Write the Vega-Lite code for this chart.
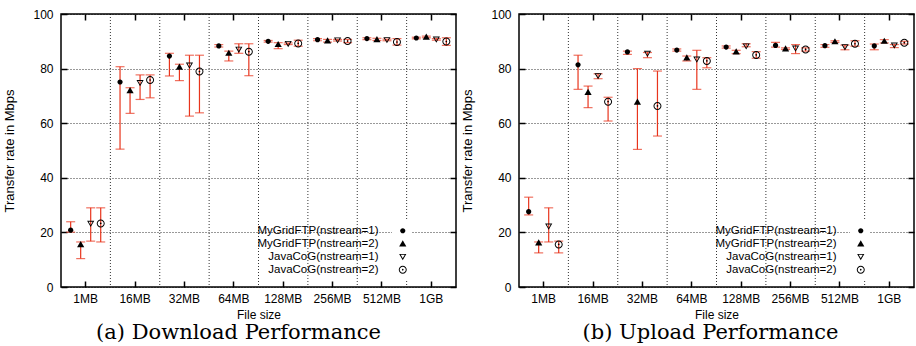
{
  "$schema": "https://vega.github.io/schema/vega-lite/v6.json",
  "padding": {"left": 3, "top": 7, "right": 1, "bottom": 2},
  "background": "white",
  "datasets": {
    "sizes": [{"s": "16MB"}, {"s": "32MB"}, {"s": "64MB"}, {"s": "128MB"}, {"s": "256MB"}, {"s": "512MB"}, {"s": "1GB"}],
    "dl": [
      {"s": "1MB", "k": "MyGridFTP(nstream=1)", "v": 20.8, "lo": 20.1, "hi": 23.9},
      {"s": "1MB", "k": "MyGridFTP(nstream=2)", "v": 15.6, "lo": 10.4, "hi": 16.5},
      {"s": "1MB", "k": "JavaCoG(nstream=1)", "v": 23.2, "lo": 16.8, "hi": 29.0},
      {"s": "1MB", "k": "JavaCoG(nstream=2)", "v": 23.3, "lo": 16.5, "hi": 29.0},
      {"s": "16MB", "k": "MyGridFTP(nstream=1)", "v": 75.1, "lo": 50.5, "hi": 80.7},
      {"s": "16MB", "k": "MyGridFTP(nstream=2)", "v": 72.0, "lo": 63.6, "hi": 73.0},
      {"s": "16MB", "k": "JavaCoG(nstream=1)", "v": 74.8, "lo": 68.7, "hi": 77.7},
      {"s": "16MB", "k": "JavaCoG(nstream=2)", "v": 75.8, "lo": 69.3, "hi": 77.7},
      {"s": "32MB", "k": "MyGridFTP(nstream=1)", "v": 84.6, "lo": 77.3, "hi": 85.6},
      {"s": "32MB", "k": "MyGridFTP(nstream=2)", "v": 80.6, "lo": 75.6, "hi": 81.6},
      {"s": "32MB", "k": "JavaCoG(nstream=1)", "v": 81.2, "lo": 62.6, "hi": 84.9},
      {"s": "32MB", "k": "JavaCoG(nstream=2)", "v": 78.9, "lo": 63.8, "hi": 84.9},
      {"s": "64MB", "k": "MyGridFTP(nstream=1)", "v": 88.3, "lo": 87.9, "hi": 88.8},
      {"s": "64MB", "k": "MyGridFTP(nstream=2)", "v": 85.7, "lo": 82.8, "hi": 86.4},
      {"s": "64MB", "k": "JavaCoG(nstream=1)", "v": 87.0, "lo": 85.6, "hi": 89.1},
      {"s": "64MB", "k": "JavaCoG(nstream=2)", "v": 86.2, "lo": 77.4, "hi": 89.1},
      {"s": "128MB", "k": "MyGridFTP(nstream=1)", "v": 90.0, "lo": 89.7, "hi": 90.3},
      {"s": "128MB", "k": "MyGridFTP(nstream=2)", "v": 88.9, "lo": 87.3, "hi": 89.5},
      {"s": "128MB", "k": "JavaCoG(nstream=1)", "v": 89.1, "lo": 88.8, "hi": 89.4},
      {"s": "128MB", "k": "JavaCoG(nstream=2)", "v": 89.2, "lo": 88.2, "hi": 90.4},
      {"s": "256MB", "k": "MyGridFTP(nstream=1)", "v": 90.6, "lo": 90.2, "hi": 91.0},
      {"s": "256MB", "k": "MyGridFTP(nstream=2)", "v": 90.2, "lo": 89.7, "hi": 90.7},
      {"s": "256MB", "k": "JavaCoG(nstream=1)", "v": 90.4, "lo": 90.1, "hi": 90.7},
      {"s": "256MB", "k": "JavaCoG(nstream=2)", "v": 90.1, "lo": 89.5, "hi": 90.7},
      {"s": "512MB", "k": "MyGridFTP(nstream=1)", "v": 91.0, "lo": 90.6, "hi": 91.3},
      {"s": "512MB", "k": "MyGridFTP(nstream=2)", "v": 90.7, "lo": 90.3, "hi": 91.1},
      {"s": "512MB", "k": "JavaCoG(nstream=1)", "v": 90.5, "lo": 90.2, "hi": 90.8},
      {"s": "512MB", "k": "JavaCoG(nstream=2)", "v": 89.7, "lo": 88.6, "hi": 91.0},
      {"s": "1GB", "k": "MyGridFTP(nstream=1)", "v": 91.2, "lo": 90.9, "hi": 91.5},
      {"s": "1GB", "k": "MyGridFTP(nstream=2)", "v": 91.6, "lo": 91.3, "hi": 91.9},
      {"s": "1GB", "k": "JavaCoG(nstream=1)", "v": 90.7, "lo": 90.4, "hi": 91.0},
      {"s": "1GB", "k": "JavaCoG(nstream=2)", "v": 89.9, "lo": 88.5, "hi": 91.3}
    ],
    "ul": [
      {"s": "1MB", "k": "MyGridFTP(nstream=1)", "v": 27.6, "lo": 26.4, "hi": 32.9},
      {"s": "1MB", "k": "MyGridFTP(nstream=2)", "v": 16.2, "lo": 12.5, "hi": 16.5},
      {"s": "1MB", "k": "JavaCoG(nstream=1)", "v": 22.2, "lo": 16.5, "hi": 29.0},
      {"s": "1MB", "k": "JavaCoG(nstream=2)", "v": 15.6, "lo": 12.5, "hi": 16.8},
      {"s": "16MB", "k": "MyGridFTP(nstream=1)", "v": 81.4, "lo": 72.4, "hi": 84.9},
      {"s": "16MB", "k": "MyGridFTP(nstream=2)", "v": 71.4, "lo": 65.7, "hi": 73.6},
      {"s": "16MB", "k": "JavaCoG(nstream=1)", "v": 77.3, "lo": 76.3, "hi": 78.1},
      {"s": "16MB", "k": "JavaCoG(nstream=2)", "v": 67.9, "lo": 60.8, "hi": 69.5},
      {"s": "32MB", "k": "MyGridFTP(nstream=1)", "v": 86.1, "lo": 85.2, "hi": 86.4},
      {"s": "32MB", "k": "MyGridFTP(nstream=2)", "v": 67.8, "lo": 50.4, "hi": 80.0},
      {"s": "32MB", "k": "JavaCoG(nstream=1)", "v": 85.5, "lo": 84.0, "hi": 85.9},
      {"s": "32MB", "k": "JavaCoG(nstream=2)", "v": 66.3, "lo": 55.3, "hi": 79.1},
      {"s": "64MB", "k": "MyGridFTP(nstream=1)", "v": 86.8, "lo": 86.4, "hi": 87.2},
      {"s": "64MB", "k": "MyGridFTP(nstream=2)", "v": 84.0, "lo": 82.8, "hi": 84.6},
      {"s": "64MB", "k": "JavaCoG(nstream=1)", "v": 83.4, "lo": 72.4, "hi": 86.7},
      {"s": "64MB", "k": "JavaCoG(nstream=2)", "v": 82.8, "lo": 80.3, "hi": 84.0},
      {"s": "128MB", "k": "MyGridFTP(nstream=1)", "v": 87.9, "lo": 87.5, "hi": 88.3},
      {"s": "128MB", "k": "MyGridFTP(nstream=2)", "v": 86.2, "lo": 85.5, "hi": 86.7},
      {"s": "128MB", "k": "JavaCoG(nstream=1)", "v": 88.2, "lo": 88.0, "hi": 89.1},
      {"s": "128MB", "k": "JavaCoG(nstream=2)", "v": 85.0, "lo": 83.8, "hi": 86.2},
      {"s": "256MB", "k": "MyGridFTP(nstream=1)", "v": 88.5, "lo": 87.9, "hi": 89.6},
      {"s": "256MB", "k": "MyGridFTP(nstream=2)", "v": 87.3, "lo": 87.0, "hi": 87.6},
      {"s": "256MB", "k": "JavaCoG(nstream=1)", "v": 87.4, "lo": 85.5, "hi": 88.8},
      {"s": "256MB", "k": "JavaCoG(nstream=2)", "v": 87.0, "lo": 86.4, "hi": 87.6},
      {"s": "512MB", "k": "MyGridFTP(nstream=1)", "v": 88.4, "lo": 87.8, "hi": 88.8},
      {"s": "512MB", "k": "MyGridFTP(nstream=2)", "v": 89.9, "lo": 89.6, "hi": 90.2},
      {"s": "512MB", "k": "JavaCoG(nstream=1)", "v": 87.9, "lo": 86.9, "hi": 88.6},
      {"s": "512MB", "k": "JavaCoG(nstream=2)", "v": 89.1, "lo": 88.2, "hi": 90.2},
      {"s": "1GB", "k": "MyGridFTP(nstream=1)", "v": 88.3, "lo": 86.9, "hi": 89.0},
      {"s": "1GB", "k": "MyGridFTP(nstream=2)", "v": 90.1, "lo": 89.4, "hi": 90.6},
      {"s": "1GB", "k": "JavaCoG(nstream=1)", "v": 88.5, "lo": 87.7, "hi": 88.8},
      {"s": "1GB", "k": "JavaCoG(nstream=2)", "v": 89.5, "lo": 89.0, "hi": 90.0}
    ]
  },
  "config": {
    "font": "Liberation Sans",
    "view": {"stroke": "black", "strokeWidth": 1.5},
    "axis": {
      "labelFont": "Liberation Sans", "labelFontSize": 12, "labelColor": "black",
      "titleFont": "Liberation Sans", "titleFontSize": 12, "titleFontWeight": "normal", "titleColor": "black",
      "domain": false, "tickColor": "black", "tickSize": -6, "tickWidth": 1.5,
      "gridColor": "#000", "gridDash": [1, 2], "gridOpacity": 0.8, "gridWidth": 1
    },
    "legend": {
      "labelFont": "Liberation Sans", "labelFontSize": 11.5, "labelColor": "black",
      "rowPadding": 0, "padding": 5, "fillColor": "white", "symbolFillColor": "black", "symbolStrokeWidth": 0, "symbolSize": 64
    },
    "title": {"font": "DejaVu Serif", "fontSize": 21, "fontWeight": "normal", "color": "black"}
  },
  "spacing": 63,
  "bounds": "flush",
  "resolve": {
    "scale": {"shape": "independent", "xOffset": "independent"},
    "legend": {"shape": "independent"}
  },
  "hconcat": [
    {
      "width": 395, "height": 273,
      "data": {"name": "dl"},
      "title": {"text": "(a) Download Performance", "orient": "bottom", "offset": 2, "dx": -20},
      "resolve": {"axis": {"x": "independent", "y": "independent"}},
      "layer": [
        {
          "data": {"name": "sizes"},
          "mark": {"type": "rule", "strokeDash": [1, 2], "color": "#000", "opacity": 0.8},
          "encoding": {
            "x": {"field": "s", "type": "nominal", "bandPosition": 0, "axis": null,
                  "scale": {"domain": ["1MB", "16MB", "32MB", "64MB", "128MB", "256MB", "512MB", "1GB"], "paddingInner": 0, "paddingOuter": 0}}
          }
        },
        {
          "mark": {"type": "rule", "color": "#e8341c", "strokeWidth": 1.2},
          "encoding": {
            "x": {"field": "s", "type": "nominal", "sort": null,
                  "axis": {"orient": "bottom", "title": "File size", "labelAngle": 0, "labelPadding": 12, "titlePadding": 5}},
            "xOffset": {"field": "k", "type": "nominal",
                        "scale": {"domain": ["MyGridFTP(nstream=1)", "MyGridFTP(nstream=2)", "JavaCoG(nstream=1)", "JavaCoG(nstream=2)"], "paddingInner": 0, "paddingOuter": 0.465}},
            "y": {"field": "lo", "type": "quantitative", "scale": {"domain": [0, 100], "nice": false},
                  "axis": {"orient": "left", "values": [0, 20, 40, 60, 80, 100], "grid": true, "title": "Transfer rate in Mbps", "titleFontSize": 13, "labelPadding": 14, "titlePadding": 16}},
            "y2": {"field": "hi"}
          }
        },
        {
          "mark": {"type": "tick", "color": "#e8341c", "thickness": 1.2},
          "encoding": {
            "x": {"field": "s", "type": "nominal", "axis": {"orient": "top", "labels": false, "title": null}},
            "xOffset": {"field": "k", "type": "nominal"},
            "y": {"field": "lo", "type": "quantitative", "axis": {"orient": "right", "labels": false, "title": null, "grid": false, "values": [0, 20, 40, 60, 80, 100]}},
            "size": {"value": 9}
          }
        },
        {
          "mark": {"type": "tick", "color": "#e8341c", "thickness": 1.2},
          "encoding": {
            "x": {"field": "s", "type": "nominal", "axis": null},
            "xOffset": {"field": "k", "type": "nominal"},
            "y": {"field": "hi", "type": "quantitative", "axis": null},
            "size": {"value": 9}
          }
        },
        {
          "mark": {"type": "point", "filled": true, "color": "black", "strokeWidth": 0, "size": 64, "opacity": 1},
          "encoding": {
            "x": {"field": "s", "type": "nominal", "axis": null},
            "xOffset": {"field": "k", "type": "nominal"},
            "y": {"field": "v", "type": "quantitative", "axis": null},
            "shape": {"field": "k", "type": "nominal",
                      "scale": {"domain": ["MyGridFTP(nstream=1)", "MyGridFTP(nstream=2)", "JavaCoG(nstream=1)", "JavaCoG(nstream=2)"],
                                "range": ["M-0.65,0A0.65,0.65 0 1,1 0.65,0A0.65,0.65 0 1,1 -0.65,0Z", "M0,-0.85L0.9,0.7L-0.9,0.7Z", "M-0.9,-0.7L0.9,-0.7L0,0.85ZM-0.5,-0.48L0,0.4L0.5,-0.48Z", "M-1,0A1,1 0 1,1 1,0A1,1 0 1,1 -1,0ZM-0.75,0A0.75,0.75 0 1,0 0.75,0A0.75,0.75 0 1,0 -0.75,0ZM-0.22,0A0.22,0.22 0 1,1 0.22,0A0.22,0.22 0 1,1 -0.22,0Z"]},
                      "legend": {"orient": "none", "legendX": 331, "legendY": 206, "title": null, "labelAlign": "right", "labelOffset": -30, "fillColor": "white", "padding": 5}}
          }
        }
      ]
    },
    {
      "width": 395, "height": 273,
      "data": {"name": "ul"},
      "title": {"text": "(b) Upload Performance", "orient": "bottom", "offset": 2, "dx": -6},
      "resolve": {"axis": {"x": "independent", "y": "independent"}},
      "layer": [
        {
          "data": {"name": "sizes"},
          "mark": {"type": "rule", "strokeDash": [1, 2], "color": "#000", "opacity": 0.8},
          "encoding": {
            "x": {"field": "s", "type": "nominal", "bandPosition": 0, "axis": null,
                  "scale": {"domain": ["1MB", "16MB", "32MB", "64MB", "128MB", "256MB", "512MB", "1GB"], "paddingInner": 0, "paddingOuter": 0}}
          }
        },
        {
          "mark": {"type": "rule", "color": "#e8341c", "strokeWidth": 1.2},
          "encoding": {
            "x": {"field": "s", "type": "nominal", "sort": null,
                  "axis": {"orient": "bottom", "title": "File size", "labelAngle": 0, "labelPadding": 12, "titlePadding": 5}},
            "xOffset": {"field": "k", "type": "nominal",
                        "scale": {"domain": ["MyGridFTP(nstream=1)", "MyGridFTP(nstream=2)", "JavaCoG(nstream=1)", "JavaCoG(nstream=2)"], "paddingInner": 0, "paddingOuter": 0.465}},
            "y": {"field": "lo", "type": "quantitative", "scale": {"domain": [0, 100], "nice": false},
                  "axis": {"orient": "left", "values": [0, 20, 40, 60, 80, 100], "grid": true, "title": "Transfer rate in Mbps", "titleFontSize": 13, "labelPadding": 14, "titlePadding": 16}},
            "y2": {"field": "hi"}
          }
        },
        {
          "mark": {"type": "tick", "color": "#e8341c", "thickness": 1.2},
          "encoding": {
            "x": {"field": "s", "type": "nominal", "axis": {"orient": "top", "labels": false, "title": null}},
            "xOffset": {"field": "k", "type": "nominal"},
            "y": {"field": "lo", "type": "quantitative", "axis": {"orient": "right", "labels": false, "title": null, "grid": false, "values": [0, 20, 40, 60, 80, 100]}},
            "size": {"value": 9}
          }
        },
        {
          "mark": {"type": "tick", "color": "#e8341c", "thickness": 1.2},
          "encoding": {
            "x": {"field": "s", "type": "nominal", "axis": null},
            "xOffset": {"field": "k", "type": "nominal"},
            "y": {"field": "hi", "type": "quantitative", "axis": null},
            "size": {"value": 9}
          }
        },
        {
          "mark": {"type": "point", "filled": true, "color": "black", "strokeWidth": 0, "size": 64, "opacity": 1},
          "encoding": {
            "x": {"field": "s", "type": "nominal", "axis": null},
            "xOffset": {"field": "k", "type": "nominal"},
            "y": {"field": "v", "type": "quantitative", "axis": null},
            "shape": {"field": "k", "type": "nominal",
                      "scale": {"domain": ["MyGridFTP(nstream=1)", "MyGridFTP(nstream=2)", "JavaCoG(nstream=1)", "JavaCoG(nstream=2)"],
                                "range": ["M-0.65,0A0.65,0.65 0 1,1 0.65,0A0.65,0.65 0 1,1 -0.65,0Z", "M0,-0.85L0.9,0.7L-0.9,0.7Z", "M-0.9,-0.7L0.9,-0.7L0,0.85ZM-0.5,-0.48L0,0.4L0.5,-0.48Z", "M-1,0A1,1 0 1,1 1,0A1,1 0 1,1 -1,0ZM-0.75,0A0.75,0.75 0 1,0 0.75,0A0.75,0.75 0 1,0 -0.75,0ZM-0.22,0A0.22,0.22 0 1,1 0.22,0A0.22,0.22 0 1,1 -0.22,0Z"]},
                      "legend": {"orient": "none", "legendX": 331, "legendY": 206, "title": null, "labelAlign": "right", "labelOffset": -30, "fillColor": "white", "padding": 5}}
          }
        }
      ]
    }
  ]
}
